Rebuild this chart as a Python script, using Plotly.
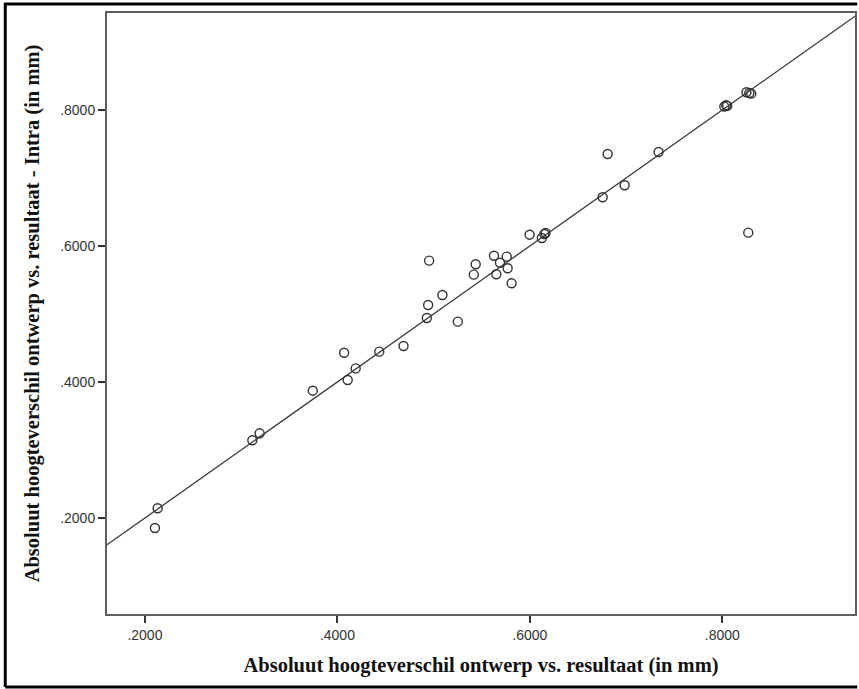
import plotly.graph_objects as go

# x: Absoluut hoogteverschil ontwerp vs. resultaat ; y: ... - Intra
x_vals = [0.2132, 0.2104, 0.3116, 0.3192, 0.3744, 0.4107, 0.4070, 0.4190, 0.4435,
          0.4687, 0.4929, 0.4943, 0.4953, 0.5091, 0.5251, 0.5417, 0.5437, 0.5627,
          0.5651, 0.5689, 0.5759, 0.5769, 0.5810, 0.5997, 0.6124, 0.6163, 0.6150,
          0.6756, 0.6808, 0.6984, 0.7337, 0.8020, 0.8040, 0.8050, 0.8250, 0.8280,
          0.8300, 0.8269]
y_vals = [0.2143, 0.1853, 0.3143, 0.3245, 0.3872, 0.4029, 0.4430, 0.4200, 0.4446,
          0.4529, 0.4941, 0.5132, 0.5784, 0.5279, 0.4887, 0.5578, 0.5731, 0.5857,
          0.5584, 0.5754, 0.5843, 0.5672, 0.5451, 0.6166, 0.6118, 0.6191, 0.6175,
          0.6716, 0.7353, 0.6893, 0.7382, 0.8050, 0.8070, 0.8060, 0.8260, 0.8250,
          0.8240, 0.6196]

# reference line y = x
ref_line = [0.0, 1.0]

tick_vals = [0.2, 0.4, 0.6, 0.8]
tick_labels = [".2000", ".4000", ".6000", ".8000"]

x_range = [0.1606, 0.9378]
y_range = [0.0588, 0.9426]

x_title = "Absoluut hoogteverschil ontwerp vs. resultaat (in mm)"
y_title = "Absoluut hoogteverschil ontwerp vs. resultaat - Intra (in mm)"

fig = go.Figure()
fig.add_trace(go.Scatter(x=ref_line, y=ref_line, mode="lines",
                         line=dict(color="#3a3a3a", width=1.3),
                         hoverinfo="skip", showlegend=False))
fig.add_trace(go.Scatter(x=x_vals, y=y_vals, mode="markers",
                         marker=dict(symbol="circle-open", size=9,
                                     color="#333333", line=dict(width=1.4)),
                         showlegend=False))

axis_common = dict(
    showgrid=False, zeroline=False,
    showline=True, mirror=True, linecolor="#5f5f5f", linewidth=2,
    ticks="outside", ticklen=7, tickwidth=1.5, tickcolor="#333333",
    tickvals=tick_vals, ticktext=tick_labels,
    tickfont=dict(family="Liberation Sans, Arial", size=14, color="#333333"),
)

title_font = dict(family="Liberation Serif, Times New Roman", size=20.5,
                  color="#111111", weight="bold")

fig.update_layout(
    width=859, height=689,
    margin=dict(l=107, r=2, t=13, b=75),
    paper_bgcolor="white", plot_bgcolor="white",
    xaxis=dict(range=x_range, title=dict(text=x_title, standoff=16, font=title_font),
               **axis_common),
    yaxis=dict(range=y_range, title=dict(text=y_title, standoff=15, font=title_font),
               **axis_common),
    shapes=[
        dict(type="line", xref="paper", yref="paper", x0=-0.136, x1=1.003,
             y0=1.015, y1=1.015, line=dict(color="black", width=3)),
        dict(type="line", xref="paper", yref="paper", x0=-0.136, x1=-0.136,
             y0=1.017, y1=-0.1215, line=dict(color="black", width=3)),
        dict(type="line", xref="paper", yref="paper", x0=-0.136, x1=1.003,
             y0=-0.1215, y1=-0.1215, line=dict(color="black", width=3)),
    ],
)

fig.write_html("out.html", config={"displayModeBar": False},
               post_script="document.body.style.margin='0';document.body.style.overflow='hidden';")
